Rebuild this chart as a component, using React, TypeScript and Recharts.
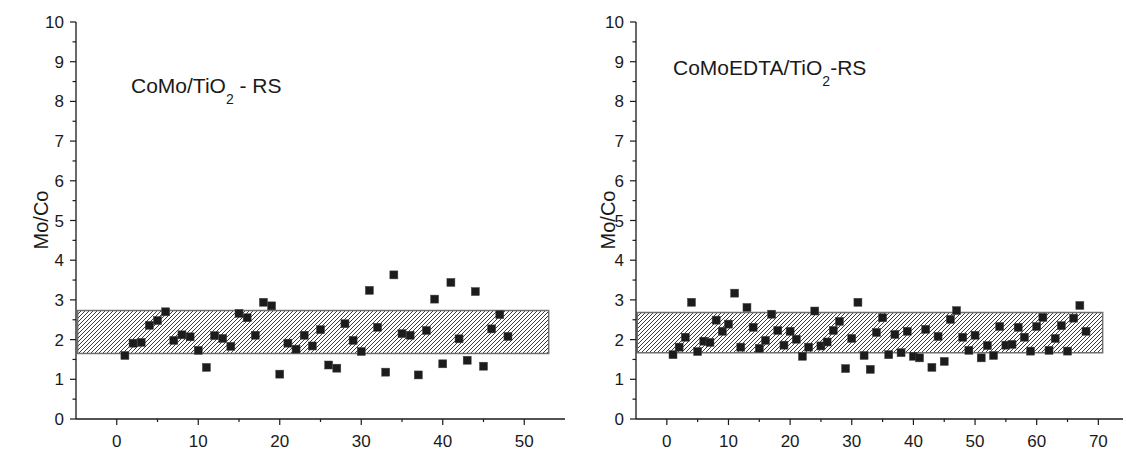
import React from "react";
import { ScatterChart, Scatter, XAxis, YAxis, ReferenceArea } from "recharts";

// Mo/Co ratio per analysed particle (x = particle number 1..n)
const leftMoCo = [
  1.6, 1.91, 1.93, 2.36, 2.48, 2.7, 1.98, 2.12, 2.07, 1.73, 1.3, 2.1, 2.03, 1.83, 2.66, 2.55,
  2.11, 2.94, 2.85, 1.13, 1.91, 1.76, 2.11, 1.84, 2.25, 1.36, 1.28, 2.4, 1.98, 1.7, 3.24, 2.31,
  1.18, 3.63, 2.15, 2.11, 1.11, 2.23, 3.02, 1.39, 3.44, 2.02, 1.48, 3.21, 1.33, 2.27, 2.63, 2.08,
];
const rightMoCo = [
  1.62, 1.81, 2.06, 2.94, 1.7, 1.96, 1.93, 2.49, 2.21, 2.39, 3.17, 1.81, 2.81, 2.31, 1.78, 1.98,
  2.64, 2.23, 1.86, 2.21, 2.01, 1.58, 1.81, 2.72, 1.84, 1.94, 2.23, 2.46, 1.27, 2.03, 2.94, 1.6,
  1.25, 2.18, 2.55, 1.62, 2.13, 1.67, 2.21, 1.58, 1.54, 2.26, 1.3, 2.08, 1.45, 2.51, 2.73, 2.06,
  1.73, 2.11, 1.54, 1.85, 1.6, 2.33, 1.86, 1.88, 2.31, 2.06, 1.71, 2.33, 2.56, 1.73, 2.03, 2.35,
  1.71, 2.54, 2.86, 2.21,
];

// shaded band (typical Mo/Co range) for each sample
const leftBand = { x1: -4.8, x2: 53, y1: 1.65, y2: 2.73 };
const rightBand = { x1: -4.8, x2: 70.7, y1: 1.67, y2: 2.68 };

const yTicks = [0, 0.5, 1, 1.5, 2, 2.5, 3, 3.5, 4, 4.5, 5, 5.5, 6, 6.5, 7, 7.5, 8, 8.5, 9, 9.5, 10];
const leftXTicks = [0, 5, 10, 15, 20, 25, 30, 35, 40, 45, 50];
const rightXTicks = [0, 5, 10, 15, 20, 25, 30, 35, 40, 45, 50, 55, 60, 65, 70];

const FONT = "'Liberation Sans', Arial, sans-serif";
const INK = "#1a1a1a";

const XTick = (p: any) => {
  const { x, y, payload } = p;
  const major = payload.value % 10 === 0;
  return (
    <g>
      <line x1={x} x2={x} y1={y} y2={y + (major ? 6 : 3)} stroke={INK} strokeWidth={1.2} />
      {major && (
        <text x={x} y={y + 28} textAnchor="middle" fontSize={17} fontFamily={FONT} fill={INK}>
          {payload.value}
        </text>
      )}
    </g>
  );
};

const YTick = (p: any) => {
  const { x, y, payload } = p;
  const major = Number.isInteger(payload.value);
  return (
    <g>
      <line x1={x} x2={x - (major ? 6 : 3.5)} y1={y} y2={y} stroke={INK} strokeWidth={1.2} />
      {major && (
        <text x={x - 12} y={y + 6} textAnchor="end" fontSize={17} fontFamily={FONT} fill={INK}>
          {payload.value}
        </text>
      )}
    </g>
  );
};

const Square = (p: any) => (
  <rect x={p.cx - 4} y={p.cy - 4} width={8} height={8} fill="#1c1c1c" stroke="#444" strokeWidth={0.5} />
);

function Panel({ id, values, band, xDomain, xTicks, width, axisWidth, marginRight }: any) {
  const data = values.map((v: number, i: number) => ({ x: i + 1, y: v }));
  return (
    <ScatterChart width={width} height={450} margin={{ top: 22, right: marginRight, bottom: 0, left: 0 }}>
      <defs>
        <pattern id={id} width={4} height={4} patternUnits="userSpaceOnUse">
          <path d="M-1,1 l2,-2 M0,4 l4,-4 M3,5 l2,-2" stroke="#222" strokeWidth={0.9} />
        </pattern>
      </defs>
      <XAxis
        type="number"
        dataKey="x"
        domain={xDomain}
        ticks={xTicks}
        interval={0}
        allowDataOverflow
        height={31}
        tickSize={0}
        tickMargin={0}
        tickLine={false}
        tick={<XTick />}
        axisLine={{ stroke: INK, strokeWidth: 1.3 }}
      />
      <YAxis
        type="number"
        dataKey="y"
        domain={[0, 10]}
        ticks={yTicks}
        interval={0}
        width={axisWidth}
        tickSize={0}
        tickMargin={0}
        tickLine={false}
        tick={<YTick />}
        axisLine={{ stroke: INK, strokeWidth: 1.3 }}
      />
      <ReferenceArea
        x1={band.x1}
        x2={band.x2}
        y1={band.y1}
        y2={band.y2}
        fill={`url(#${id})`}
        fillOpacity={1}
        stroke="#707070"
        strokeWidth={1.5}
        ifOverflow="extendDomain"
      />
      <Scatter data={data} shape={<Square />} isAnimationActive={false} />
    </ScatterChart>
  );
}

export default function App() {
  return (
    <div style={{ position: "absolute", left: 0, top: 0, width: 1126, height: 450, background: "#fff" }}>
      <div style={{ position: "absolute", left: 0, top: 0 }}>
        <Panel
          id="hatchL"
          values={leftMoCo}
          band={leftBand}
          xDomain={[-5, 55]}
          xTicks={leftXTicks}
          width={570}
          axisWidth={76}
          marginRight={5}
        />
      </div>
      <div style={{ position: "absolute", left: 570, top: 0 }}>
        <Panel
          id="hatchR"
          values={rightMoCo}
          band={rightBand}
          xDomain={[-5, 74]}
          xTicks={rightXTicks}
          width={556}
          axisWidth={66}
          marginRight={3}
        />
      </div>
      <svg
        width={1126}
        height={450}
        style={{ position: "absolute", left: 0, top: 0, pointerEvents: "none" }}
        fontFamily={FONT}
        fill={INK}
      >
        <text x={131} y={93} fontSize={21}>
          CoMo/TiO<tspan fontSize={14} dy={11}>2</tspan>
          <tspan dy={-11}> - RS</tspan>
        </text>
        <text x={673} y={75} fontSize={21}>
          CoMoEDTA/TiO<tspan fontSize={14} dy={11}>2</tspan>
          <tspan dy={-11}>-RS</tspan>
        </text>
        <text x={48} y={220} fontSize={20} textAnchor="middle" transform="rotate(-90 48 220)">
          Mo/Co
        </text>
        <text x={615} y={220} fontSize={20} textAnchor="middle" transform="rotate(-90 615 220)">
          Mo/Co
        </text>
      </svg>
    </div>
  );
}
